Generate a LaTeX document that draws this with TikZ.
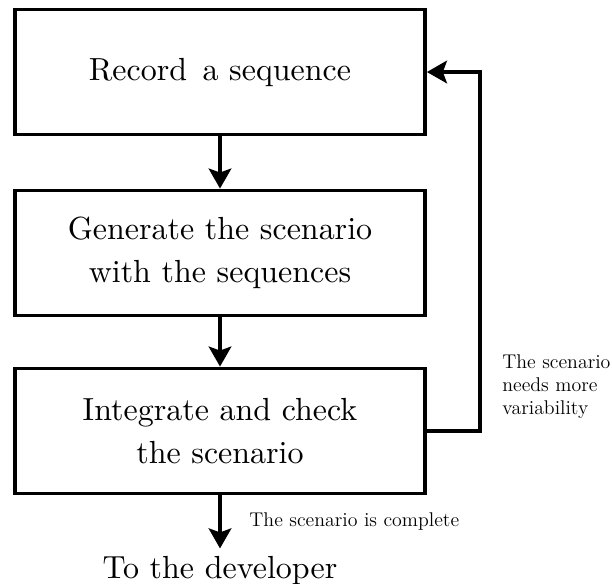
\documentclass[tikz,border=0pt]{standalone}
\usepackage{fontspec}
\newfontfamily\bigrm{lmroman10-regular}[Extension=.otf]
\usetikzlibrary{arrows.meta,positioning}
\begin{document}
\begin{tikzpicture}[x=0.02cm,y=-0.02cm,
  every node/.style={align=center,font=\bigrm\fontsize{18.2}{24.5}\selectfont},
  box/.style={draw,line width=2.2pt,minimum width=8.2cm,minimum height=2.5cm,inner sep=0pt},
  flow/.style={-{Stealth[length=0.4cm,width=0.45cm,inset=0.08cm]},line width=2.2pt},
  note/.style={align=left,inner sep=0pt,font=\fontsize{11.3}{13.1}\selectfont}]
\useasboundingbox (0,0) rectangle (612,583);
\node[box] (rec) at (220,72) {Record\hspace{0.15em} a sequence};
\node[box] (gen) at (220,253) {Generate the scenario\\with the sequences};
\node[box] (chk) at (220,431) {Integrate and check\\the scenario};
\node[inner sep=4pt] (dev) at (220,570) {To the developer};
\draw[flow] (rec)--(gen);\draw[flow] (gen)--(chk);
\draw[flow] (chk.east) -- ++(53,0) |- (rec.east);
\draw[flow] (chk) -- (dev) node[midway,right=0.55cm,note] (done) {The scenario is complete};
\node[note,anchor=west] (more) at (502,387) {The scenario\\needs more\\variability};
\end{tikzpicture}
\end{document}
